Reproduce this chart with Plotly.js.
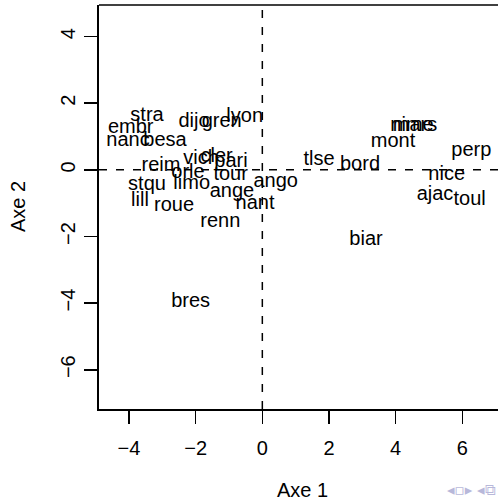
<!DOCTYPE html>
<html>
<head>
<meta charset="utf-8">
<script src="https://cdn.plot.ly/plotly-3.0.1.min.js"></script>
<style>
  html, body { margin: 0; padding: 0; background: #ffffff; }
  #chart { width: 498px; height: 502px; }
</style>
</head>
<body>
<div id="chart"></div>
<script>
// City labels placed on the first two factorial axes
const cities = [
  "stra", "embr", "nanc", "besa", "dijo", "gren", "lyon",
  "vich", "cler", "pari", "reim", "orle", "tour", "limo",
  "stqu", "lill", "roue", "ange", "ango", "nant", "renn", "bres",
  "tlse", "bord", "mont", "nime", "mars", "perp", "nice",
  "ajac", "toul", "biar"
];
const axe1 = [
  -3.46, -3.95, -4.03, -2.92, -2.05, -1.22, -0.53,
  -1.84, -1.37, -0.94, -3.04, -2.23, -0.95, -2.12,
  -3.46, -3.67, -2.65, -0.91, 0.40, -0.22, -1.26, -2.15,
  1.70, 2.93, 3.92, 4.49, 4.58, 6.27, 5.53,
  5.18, 6.22, 3.11
];
const axe2 = [
  1.63, 1.25, 0.88, 0.88, 1.45, 1.45, 1.60,
  0.34, 0.40, 0.23, 0.11, -0.09, -0.15, -0.41,
  -0.44, -0.94, -1.09, -0.65, -0.35, -1.02, -1.58, -3.97,
  0.29, 0.15, 0.84, 1.32, 1.32, 0.56, -0.14,
  -0.75, -0.90, -2.12
];
const xTicks = [-4, -2, 0, 2, 4, 6];
const yTicks = [-6, -4, -2, 0, 2, 4];
const xTitle = "Axe 1";
const yTitle = "Axe 2";

const FONT = "'Liberation Sans', Arial, Helvetica, sans-serif";
const INK = "#000000";

const trace = {
  type: "scatter",
  mode: "text",
  x: axe1,
  y: axe2,
  text: cities,
  textposition: "middle center",
  textfont: { family: FONT, size: 20, color: INK },
  hoverinfo: "none",
  showlegend: false
};

const axisCommon = {
  showgrid: false,
  zeroline: false,
  showline: true,
  linecolor: INK,
  linewidth: 1.6,
  ticks: "outside",
  ticklen: 13,
  tickwidth: 1.6,
  tickcolor: INK,
  tickfont: { family: FONT, size: 20, color: INK },
  tickmode: "array",
  fixedrange: true
};

const layout = {
  width: 498,
  height: 502,
  margin: { l: 99, r: 0, t: 5, b: 93, pad: 0 },
  paper_bgcolor: "#ffffff",
  plot_bgcolor: "#ffffff",
  font: { family: FONT, size: 20, color: INK },
  xaxis: Object.assign({}, axisCommon, {
    range: [-4.90, 7.07],
    tickvals: xTicks,
    ticklabelstandoff: 7
  }),
  yaxis: Object.assign({}, axisCommon, {
    range: [-7.18, 4.95],
    tickvals: yTicks,
    tickangle: -90,
    ticklabelstandoff: 1
  }),
  shapes: [
    // top edge of the frame
    { type: "line", xref: "paper", yref: "paper", x0: 0, x1: 1, y0: 1, y1: 1,
      line: { color: INK, width: 1.6 } },
    // dashed reference lines through the origin
    { type: "line", xref: "x", yref: "paper", x0: 0, x1: 0, y0: 0, y1: 1,
      line: { color: INK, width: 1.5, dash: "8px,9px" } },
    { type: "line", xref: "paper", yref: "y", x0: 0, x1: 1, y0: 0, y1: 0,
      line: { color: INK, width: 1.5, dash: "8px,9px" } }
  ],
  annotations: [
    { text: xTitle, xref: "paper", yref: "paper", x: 0.509, y: -0.2005,
      xanchor: "center", yanchor: "middle", showarrow: false,
      font: { family: FONT, size: 20, color: INK } },
    { text: yTitle, xref: "paper", yref: "paper", x: -0.203, y: 0.5,
      xanchor: "center", yanchor: "middle", textangle: -90, showarrow: false,
      font: { family: FONT, size: 20, color: INK } },
    // slide navigation glyphs in the corner
    { text: "◂▫▸ ◂⧉", xref: "paper", yref: "paper", x: 1, y: -0.2,
      xanchor: "right", yanchor: "middle", showarrow: false,
      font: { family: "'DejaVu Sans', sans-serif", size: 15, color: "#b8b8da" } }
  ]
};

Plotly.newPlot("chart", [trace], layout, { staticPlot: true, displayModeBar: false });
</script>
</body>
</html>
